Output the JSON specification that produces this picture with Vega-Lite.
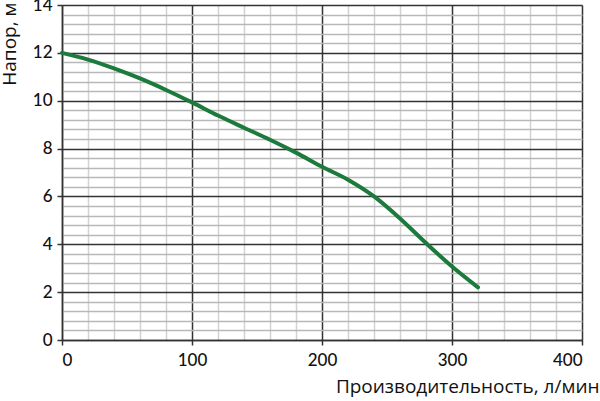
{
  "$schema": "https://vega.github.io/schema/vega-lite/v6.json",
  "width": 520,
  "height": 335,
  "autosize": "none",
  "padding": {"left": 62, "top": 5, "right": 18, "bottom": 61},
  "background": "white",
  "config": {"view": {"stroke": null}, "font": "Open Sans"},
  "data": {"values": [
    {"q": 0, "h": 12.0},
    {"q": 20, "h": 11.72},
    {"q": 40, "h": 11.35},
    {"q": 60, "h": 10.93},
    {"q": 80, "h": 10.45},
    {"q": 100, "h": 9.93},
    {"q": 120, "h": 9.38},
    {"q": 140, "h": 8.87},
    {"q": 160, "h": 8.37},
    {"q": 180, "h": 7.83},
    {"q": 200, "h": 7.24},
    {"q": 220, "h": 6.7},
    {"q": 240, "h": 6.0},
    {"q": 260, "h": 5.08},
    {"q": 280, "h": 4.05},
    {"q": 300, "h": 3.07},
    {"q": 320, "h": 2.2}
  ]},
  "mark": {"type": "line", "interpolate": "monotone", "color": "#1b7a3c", "strokeWidth": 4, "strokeCap": "round"},
  "encoding": {
    "x": {
      "field": "q", "type": "quantitative",
      "scale": {"domain": [0, 400], "nice": false},
      "axis": {
        "title": "Производительность, л/мин",
        "titleFont": "Open Sans", "titleFontSize": 19, "titleFontWeight": "normal", "titleColor": "#111",
        "titleAnchor": "end", "titleAlign": "right", "titleX": 537, "titleY": 46, "titleBaseline": "middle",
        "values": [0,20,40,60,80,100,120,140,160,180,200,220,240,260,280,300,320,340,360,380,400],
        "labelExpr": "datum.value % 100 === 0 ? format(datum.value, 'd') : ''",
        "labelOverlap": false,
        "labelFont": "Lato", "labelFontSize": 17, "labelFontWeight": 500, "labelColor": "#111", "labelPadding": 7,
        "tickSize": {"condition": {"test": "datum.value % 100 === 0", "value": 5}, "value": 0},
        "tickColor": "#333", "tickWidth": 1.5,
        "domainColor": "#333", "domainWidth": 1.5,
        "grid": true,
        "gridColor": {"condition": {"test": "datum.value % 100 === 0", "value": "#333"}, "value": "#d2d2d2"},
        "gridWidth": 1.5
      }
    },
    "y": {
      "field": "h", "type": "quantitative",
      "scale": {"domain": [0, 14], "nice": false},
      "axis": {
        "title": "Напор, м",
        "titleFont": "Open Sans", "titleFontSize": 19, "titleFontWeight": "normal", "titleColor": "#111",
        "titleAnchor": "end", "titleX": -53, "titleY": -3, "titleBaseline": "middle",
        "values": [0,0.4,0.8,1.2,1.6,2,2.4,2.8,3.2,3.6,4,4.4,4.8,5.2,5.6,6,6.4,6.8,7.2,7.6,8,8.4,8.8,9.2,9.6,10,10.4,10.8,11.2,11.6,12,12.4,12.8,13.2,13.6,14],
        "labelExpr": "abs(datum.value - round(datum.value/2)*2) < 0.01 ? format(datum.value, 'd') : ''",
        "labelOverlap": false,
        "labelFont": "Lato", "labelFontSize": 17, "labelFontWeight": 500, "labelColor": "#111", "labelPadding": 5,
        "tickSize": {"condition": {"test": "abs(datum.value - round(datum.value/2)*2) < 0.01", "value": 5}, "value": 0},
        "tickColor": "#333", "tickWidth": 1.5,
        "domainColor": "#333", "domainWidth": 1.5,
        "grid": true,
        "gridColor": {"condition": {"test": "abs(datum.value - round(datum.value/2)*2) < 0.01", "value": "#333"}, "value": "#b8b8b8"},
        "gridWidth": 1.5
      }
    }
  }
}
